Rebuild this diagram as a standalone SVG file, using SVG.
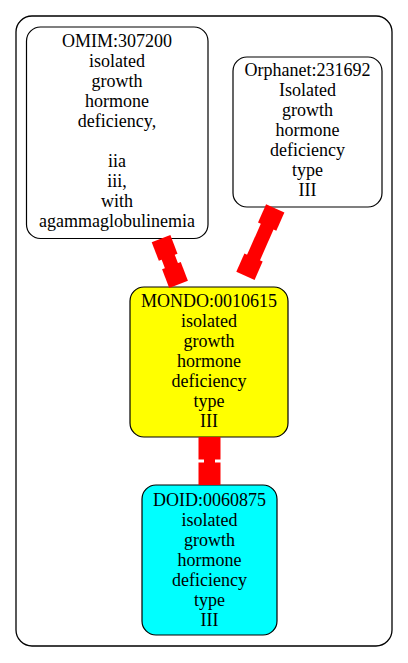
<svg xmlns="http://www.w3.org/2000/svg" width="408" height="663" viewBox="0 0 408 663">
<style>
.n{stroke:#000;stroke-width:1.2}
.t{font-family:"Liberation Serif","Times New Roman",serif;font-size:18px;text-anchor:middle;fill:#000}
.e{fill:#ff0000}
</style>
<rect width="408" height="663" fill="#fff"/>
<g id="cluster">
<rect x="16" y="16" width="376" height="630" rx="16" fill="none" stroke="#000" stroke-width="1.3"/>
</g>
<g id="omim">
<rect class="n" x="26.5" y="27" width="181.5" height="211.5" rx="14" fill="#fff"/>
<text class="t" x="117" y="47">OMIM:307200</text>
<text class="t" x="117" y="67">isolated</text>
<text class="t" x="117" y="87">growth</text>
<text class="t" x="117" y="107">hormone</text>
<text class="t" x="117" y="127">deficiency,</text>
<text class="t" x="117" y="167">iia</text>
<text class="t" x="117" y="187">iii,</text>
<text class="t" x="117" y="207">with</text>
<text class="t" x="117" y="227">agammaglobulinemia</text>
</g>
<g id="orphanet">
<rect class="n" x="233" y="57" width="149" height="150" rx="14" fill="#fff"/>
<text class="t" x="307.5" y="76">Orphanet:231692</text>
<text class="t" x="307.5" y="96">Isolated</text>
<text class="t" x="307.5" y="116">growth</text>
<text class="t" x="307.5" y="136">hormone</text>
<text class="t" x="307.5" y="156">deficiency</text>
<text class="t" x="307.5" y="176">type</text>
<text class="t" x="307.5" y="196">III</text>
</g>
<g id="mondo">
<rect class="n" x="130" y="287" width="158" height="150" rx="14" fill="#ffff00"/>
<text class="t" x="209" y="307">MONDO:0010615</text>
<text class="t" x="209" y="327">isolated</text>
<text class="t" x="209" y="347">growth</text>
<text class="t" x="209" y="367">hormone</text>
<text class="t" x="209" y="387">deficiency</text>
<text class="t" x="209" y="407">type</text>
<text class="t" x="209" y="427">III</text>
</g>
<g id="doid">
<rect class="n" x="142" y="485" width="135" height="150" rx="14" fill="#00ffff"/>
<text class="t" x="209.5" y="506">DOID:0060875</text>
<text class="t" x="209.5" y="526">isolated</text>
<text class="t" x="209.5" y="546">growth</text>
<text class="t" x="209.5" y="566">hormone</text>
<text class="t" x="209.5" y="586">deficiency</text>
<text class="t" x="209.5" y="606">type</text>
<text class="t" x="209.5" y="626">III</text>
</g>
<g id="connectors">
<g class="e" transform="translate(164.6,247.9) rotate(-21)">
<rect x="-10" y="-10" width="20" height="20"/>
<rect x="-7" y="9" width="14" height="11"/>
<rect x="-10" y="19" width="20" height="20"/>
</g>
<g class="e" transform="translate(271.2,217.5) rotate(23.8)">
<rect x="-10" y="-10" width="20" height="20"/>
<rect x="-7" y="9" width="14" height="36"/>
<rect x="-10" y="43.8" width="20" height="20"/>
</g>
<g class="e">
<rect x="198.5" y="437" width="22" height="22.5"/>
<rect x="204" y="459" width="11" height="4"/>
<rect x="198.5" y="462.5" width="22" height="22.5"/>
</g>
</g>
</svg>
